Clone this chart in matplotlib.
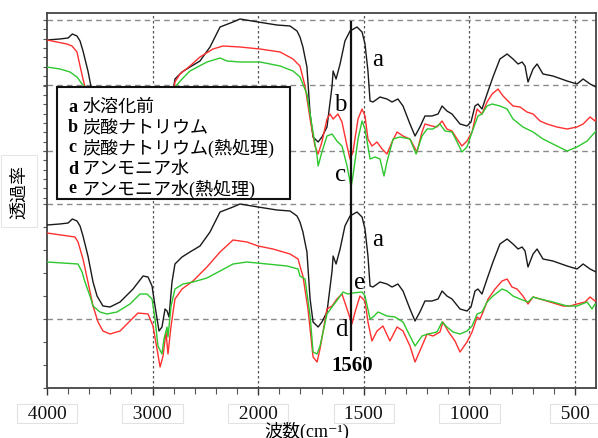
import numpy as np
import matplotlib
matplotlib.use("Agg")
import matplotlib.pyplot as plt
from matplotlib.patches import Rectangle

SERIF = ["Liberation Serif", "DejaVu Serif", "Noto Sans CJK JP"]
plt.rcParams["font.family"] = SERIF

# ---- spectra: (wavenumber cm-1, transmittance in arbitrary units) ----
spec_a = np.array([
    (4000, 348), (3880, 349), (3800, 350), (3760, 354), (3716, 352), (3687, 347),
    (3659, 337), (3612, 317), (3564, 291),
    (3526, 277), (3470, 267), (3403, 266), (3308, 271), (3185, 284), (3090, 297),
    (3043, 296), (3005, 287), (2977, 267), (2939, 242), (2911, 246), (2882, 264),
    (2863, 262), (2844, 256), (2816, 291), (2788, 309), (2721, 316), (2646, 321),
    (2551, 327), (2456, 341), (2361, 361), (2238, 366), (2172, 369), (2001, 366),
    (1911, 363), (1849, 362), (1816, 357), (1802, 351), (1788, 341), (1769, 321),
    (1754, 274), (1740, 251), (1716, 246), (1698, 251), (1674, 261), (1650, 302),
    (1645, 317), (1631, 309), (1612, 324), (1589, 347), (1565, 357), (1532, 361),
    (1508, 356), (1494, 344), (1480, 317), (1470, 287), (1456, 286), (1423, 291),
    (1390, 289), (1366, 286), (1338, 289), (1314, 282), (1281, 264), (1257, 252),
    (1234, 261), (1210, 272), (1177, 272), (1148, 274), (1129, 282), (1106, 277),
    (1082, 274), (1044, 264), (1011, 262), (992, 266), (973, 282), (959, 284),
    (940, 279), (916, 294), (888, 311), (855, 329), (821, 334), (793, 329),
    (769, 324), (750, 326), (736, 322), (722, 306), (698, 319), (679, 324),
    (651, 314), (604, 312), (537, 307), (490, 304), (461, 309), (428, 304),
    (400, 301),
])

spec_b = np.array([
    (4000, 348), (3811, 344), (3763, 342), (3716, 336), (3687, 322), (3659, 309),
    (3640, 301), (3600, 285), (3550, 268), (3480, 258), (3400, 255), (3300, 258),
    (3200, 266), (3100, 274), (3040, 272), (3000, 262), (2958, 240), (2925, 222),
    (2900, 232), (2873, 250), (2854, 234), (2825, 280), (2788, 306), (2740, 314),
    (2646, 322), (2551, 331), (2428, 339), (2333, 342), (2172, 341), (1991, 339),
    (1896, 336), (1835, 329), (1802, 322), (1778, 302), (1754, 269), (1731, 242),
    (1716, 234), (1698, 246), (1674, 269), (1660, 274), (1645, 269), (1622, 274),
    (1603, 266), (1579, 242), (1565, 229), (1551, 236), (1527, 269), (1508, 279),
    (1494, 272), (1480, 249), (1461, 242), (1437, 246), (1413, 239), (1390, 234),
    (1366, 246), (1342, 256), (1314, 252), (1281, 249), (1248, 236), (1224, 256),
    (1210, 264), (1177, 262), (1153, 261), (1129, 267), (1106, 259), (1082, 257),
    (1058, 249), (1035, 242), (1011, 247), (987, 256), (963, 279), (940, 274),
    (916, 286), (892, 294), (864, 299), (840, 292), (817, 287), (793, 282),
    (760, 281), (727, 276), (698, 274), (665, 267), (632, 264), (585, 261),
    (537, 259), (490, 261), (461, 264), (428, 271), (405, 267), (400, 270),
])

spec_c = np.array([
    (4000, 321), (3877, 319), (3782, 316), (3716, 311), (3668, 304), (3640, 301),
    (3600, 292), (3550, 280), (3470, 268), (3400, 265), (3300, 267), (3200, 274),
    (3100, 282), (3040, 280), (3000, 272), (2958, 252), (2925, 236), (2900, 246),
    (2873, 260), (2854, 248), (2825, 275), (2788, 301), (2721, 309), (2646, 317),
    (2485, 326), (2361, 330), (2295, 327), (2172, 326), (1991, 326), (1896, 322),
    (1835, 317), (1802, 311), (1769, 294), (1745, 262), (1721, 232), (1716, 222),
    (1698, 236), (1674, 252), (1650, 254), (1627, 247), (1603, 242), (1579, 222),
    (1560, 201), (1551, 212), (1527, 249), (1508, 267), (1494, 259), (1470, 229),
    (1447, 231), (1423, 229), (1404, 212), (1390, 226), (1361, 249), (1328, 251),
    (1281, 249), (1252, 234), (1224, 252), (1200, 259), (1172, 259), (1139, 264),
    (1115, 257), (1082, 256), (1058, 246), (1035, 236), (1011, 241), (987, 256),
    (959, 272), (940, 274), (916, 282), (892, 284), (855, 282), (821, 279),
    (793, 269), (746, 261), (698, 256), (651, 249), (604, 244), (537, 237),
    (490, 241), (442, 247), (400, 257),
])

spec_d = np.array([
    (4000, 340), (3735, 336), (3706, 331), (3659, 314), (3612, 291), (3564, 267),
    (3517, 251), (3470, 242), (3403, 239), (3308, 242), (3214, 252), (3138, 260),
    (3043, 259), (2996, 247), (2958, 224), (2929, 206), (2901, 217), (2873, 241),
    (2854, 219), (2825, 247), (2788, 274), (2721, 284), (2617, 292), (2485, 306),
    (2361, 321), (2238, 333), (2106, 331), (2001, 327), (1930, 324), (1849, 319),
    (1811, 314), (1802, 307), (1788, 297), (1764, 264), (1740, 216), (1721, 211),
    (1707, 224), (1674, 264), (1650, 267), (1627, 274), (1603, 279), (1579, 264),
    (1556, 249), (1541, 261), (1518, 277), (1494, 272), (1480, 251), (1461, 232),
    (1437, 242), (1409, 247), (1376, 232), (1342, 246), (1314, 242), (1281, 227),
    (1257, 211), (1224, 227), (1200, 239), (1172, 237), (1139, 241), (1125, 251),
    (1101, 242), (1068, 232), (1044, 221), (1011, 231), (987, 241), (963, 256),
    (949, 254), (935, 261), (911, 274), (878, 284), (845, 292), (821, 294),
    (798, 286), (774, 284), (746, 277), (722, 269), (698, 276), (665, 274),
    (618, 271), (556, 267), (523, 267), (490, 269), (452, 271), (428, 276),
    (405, 272), (400, 273),
])

spec_e = np.array([
    (4000, 311), (3706, 309), (3668, 301), (3640, 291), (3593, 277), (3564, 267),
    (3498, 261), (3432, 259), (3337, 261), (3214, 269), (3119, 279), (3053, 279),
    (3005, 274), (2977, 254), (2949, 227), (2911, 219), (2892, 234), (2863, 246),
    (2854, 236), (2825, 267), (2788, 284), (2712, 289), (2617, 291), (2485, 295),
    (2361, 302), (2238, 309), (2106, 311), (1958, 309), (1863, 307), (1811, 304),
    (1802, 297), (1778, 294), (1754, 257), (1740, 221), (1721, 219), (1707, 227),
    (1674, 259), (1650, 266), (1622, 274), (1598, 281), (1575, 279), (1551, 280),
    (1508, 281), (1494, 277), (1470, 254), (1456, 256), (1432, 261), (1390, 257),
    (1352, 256), (1314, 251), (1281, 237), (1257, 227), (1224, 237), (1196, 239),
    (1153, 241), (1129, 251), (1106, 246), (1077, 241), (1044, 239), (1011, 242),
    (987, 247), (963, 259), (940, 261), (916, 271), (888, 277), (845, 284),
    (821, 282), (793, 277), (760, 274), (722, 271), (698, 276), (665, 274),
    (604, 271), (537, 267), (490, 267), (442, 271), (419, 264), (405, 269),
    (400, 268),
])

group_offset = 185          # vertical shift of the lower set (a, d, e)
marker_wn = 1560            # band marked by the vertical line

legend_letters = ["a", "b", "c", "d", "e"]
legend_names = ["水溶化前", "炭酸ナトリウム", "炭酸ナトリウム(熱処理)",
                "アンモニア水", "アンモニア水(熱処理)"]
xtick_values = [4000, 3000, 2000, 1500, 1000, 500]

BLACK, RED, GREEN = "#1a1a1a", "#ff3030", "#2ec82e"

W, H = 598, 439
AX_L, AX_B, AX_W, AX_H = 47, 50, 549, 375


# half-scale above 2000 cm-1, full scale below
def fwd(w):
    w = np.asarray(w, dtype=float)
    return np.where(w > 2000, 2000 + (w - 2000) / 2.0, w)


def inv(u):
    u = np.asarray(u, dtype=float)
    return np.where(u > 2000, 2000 + (u - 2000) * 2.0, u)


fig = plt.figure(figsize=(W / 100, H / 100), dpi=100)
ax = fig.add_axes([AX_L / W, AX_B / H, AX_W / W, AX_H / H])
ax.set_xscale("function", functions=(fwd, inv))
ax.set_xlim(4000, 400)
ax.set_ylim(0, 375)


def axfrac(px, py):
    """pixel position in the figure -> axes fraction"""
    return (px - AX_L) / AX_W, (H - AX_B - py) / AX_H


# upper set
ax.plot(spec_a[:, 0], spec_a[:, 1], color=BLACK, lw=1.0, zorder=3)
ax.plot(spec_b[:, 0], spec_b[:, 1], color=RED, lw=1.0, zorder=3)
ax.plot(spec_c[:, 0], spec_c[:, 1], color=GREEN, lw=1.0, zorder=3)
# lower set
ax.plot(spec_a[:, 0], spec_a[:, 1] - group_offset, color=BLACK, lw=1.0, zorder=3)
ax.plot(spec_d[:, 0], spec_d[:, 1] - group_offset, color=RED, lw=1.0, zorder=3)
ax.plot(spec_e[:, 0], spec_e[:, 1] - group_offset, color=GREEN, lw=1.0, zorder=3)

# grid
grid_y = [368, 303, 237, 184, 69]
for gy in grid_y:
    ax.axhline(gy, color="#8a8a8a", lw=1.0, ls=(0, (4, 3)), zorder=1)
for gx in xtick_values[1:]:
    ax.axvline(gx, color="#555555", lw=0.9, ls=(0, (2, 2)), zorder=1)

# band marker
ax.vlines(marker_wn, 37, 367, color="#111111", lw=1.6, zorder=4)
ax.text(1555, 23, str(marker_wn), fontsize=15, fontweight="bold",
        ha="center", va="center", zorder=6)

# curve labels
lab_kw = dict(fontsize=18, ha="center", va="center", zorder=6)
ax.text(1432, 329, "a", **lab_kw)
ax.text(1432, 149, "a", **lab_kw)
ax.text(1612, 284, "b", **lab_kw)
ax.text(1612, 214, "c", **lab_kw)
ax.text(1607, 59, "d", **lab_kw)
ax.text(1518, 106, "e", **lab_kw)

# ticks
ax.xaxis.set_major_locator(matplotlib.ticker.FixedLocator(xtick_values))
ax.xaxis.set_major_formatter(matplotlib.ticker.FixedFormatter(
    ["  %d  " % v for v in xtick_values]))
minor_x = list(range(3800, 2000, -200)) + list(range(1900, 400, -100))
ax.xaxis.set_minor_locator(matplotlib.ticker.FixedLocator(minor_x))
ax.tick_params(axis="x", which="major", direction="out", length=5, width=1,
               labelsize=14, pad=7, colors="#333333", labelcolor="#111111")
ax.tick_params(axis="x", which="minor", direction="out", length=4, width=0.8, colors="#555555")
for lbl in ax.get_xticklabels():
    lbl.set_bbox(dict(boxstyle="square,pad=0.05", fc="white", ec="#e2e2e2", lw=0.8))

ax.yaxis.set_major_locator(matplotlib.ticker.FixedLocator(grid_y))
minor_y = [368 - k * 9.36 for k in range(1, 20) if 368 - k * 9.36 > 186] + \
          [184 - k * 23 for k in range(1, 9)]
ax.yaxis.set_minor_locator(matplotlib.ticker.FixedLocator(minor_y))
ax.tick_params(axis="y", which="both", direction="out", length=3, width=0.8,
               colors="#555555", labelleft=False)

for sp in ax.spines.values():
    sp.set_color("#444444")
    sp.set_linewidth(1.3)

# legend box
x0, y1 = axfrac(57, 88)
x1, y0 = axfrac(290, 200)
ax.add_patch(Rectangle((x0, y0), x1 - x0, y1 - y0, transform=ax.transAxes,
                       fc="white", ec="#111111", lw=1.5, zorder=5))
row_y = [107, 128, 148, 169, 189]
for letter, name, py in zip(legend_letters, legend_names, row_y):
    lx, ly = axfrac(68, py)
    ax.text(lx, ly, letter, transform=ax.transAxes, fontsize=13, fontweight="bold",
            ha="left", va="center", zorder=6)
    nx, _ = axfrac(82, py)
    ax.text(nx, ly, name, transform=ax.transAxes, fontsize=13,
            ha="left", va="center", zorder=6)

# axis titles
fig.text(307 / W, 1 - 431 / H, "波数(cm⁻¹)", fontsize=13, ha="center", va="center")
fig.text(19 / W, 1 - 192 / H, "透過率", fontsize=13, rotation=90,
         ha="center", va="center", family=["Noto Sans CJK JP"],
         bbox=dict(boxstyle="square,pad=0.5", fc="white", ec="#e6e6e6", lw=0.8))

fig.savefig("out.png", dpi=100)
